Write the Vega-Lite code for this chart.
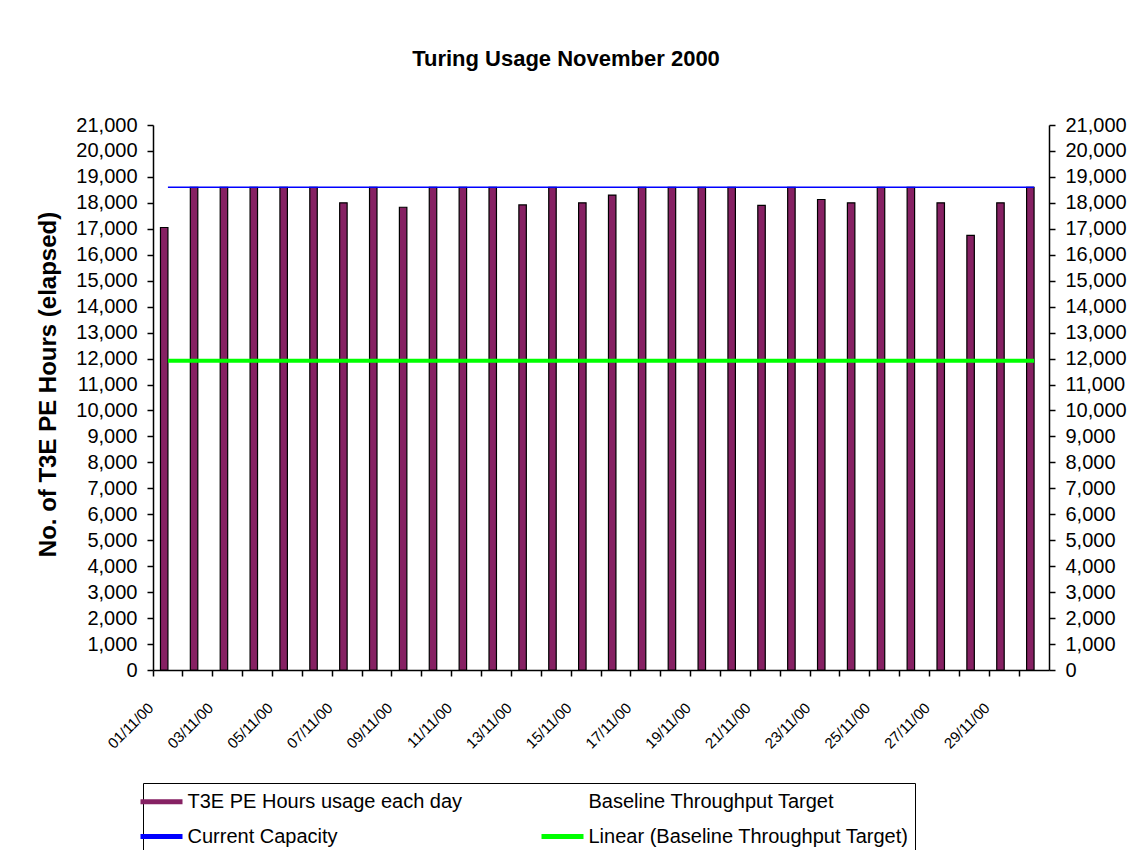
{
  "$schema": "https://vega.github.io/schema/vega-lite/v6.json",
  "width": 896,
  "height": 545,
  "autosize": {"type": "none"},
  "padding": {"left": 153, "top": 125, "right": 84, "bottom": 180},
  "background": "white",
  "config": {
    "view": {"stroke": null},
    "font": "Liberation Sans",
    "axis": {"domainColor": "black", "tickColor": "black", "labelColor": "black", "titleColor": "black", "grid": false, "labelFont": "Liberation Sans", "titleFont": "Liberation Sans", "domainWidth": 1.5, "tickWidth": 1.5}
  },
  "title": {"text": "Turing Usage November 2000", "font": "Liberation Sans", "fontSize": 22, "fontWeight": "bold", "color": "black", "anchor": "middle", "frame": "group", "dx": -35, "offset": 44},
  "data": {"values": [
    {"date": "01/11/00", "usage": 17050, "baseline": 11920, "capacity": 18600, "linear": 11920},
    {"date": "02/11/00", "usage": 18600, "baseline": 11920, "capacity": 18600, "linear": 11920},
    {"date": "03/11/00", "usage": 18600, "baseline": 11920, "capacity": 18600, "linear": 11920},
    {"date": "04/11/00", "usage": 18600, "baseline": 11920, "capacity": 18600, "linear": 11920},
    {"date": "05/11/00", "usage": 18600, "baseline": 11920, "capacity": 18600, "linear": 11920},
    {"date": "06/11/00", "usage": 18600, "baseline": 11920, "capacity": 18600, "linear": 11920},
    {"date": "07/11/00", "usage": 18000, "baseline": 11920, "capacity": 18600, "linear": 11920},
    {"date": "08/11/00", "usage": 18600, "baseline": 11920, "capacity": 18600, "linear": 11920},
    {"date": "09/11/00", "usage": 17830, "baseline": 11920, "capacity": 18600, "linear": 11920},
    {"date": "10/11/00", "usage": 18600, "baseline": 11920, "capacity": 18600, "linear": 11920},
    {"date": "11/11/00", "usage": 18600, "baseline": 11920, "capacity": 18600, "linear": 11920},
    {"date": "12/11/00", "usage": 18600, "baseline": 11920, "capacity": 18600, "linear": 11920},
    {"date": "13/11/00", "usage": 17920, "baseline": 11920, "capacity": 18600, "linear": 11920},
    {"date": "14/11/00", "usage": 18600, "baseline": 11920, "capacity": 18600, "linear": 11920},
    {"date": "15/11/00", "usage": 18000, "baseline": 11920, "capacity": 18600, "linear": 11920},
    {"date": "16/11/00", "usage": 18300, "baseline": 11920, "capacity": 18600, "linear": 11920},
    {"date": "17/11/00", "usage": 18600, "baseline": 11920, "capacity": 18600, "linear": 11920},
    {"date": "18/11/00", "usage": 18600, "baseline": 11920, "capacity": 18600, "linear": 11920},
    {"date": "19/11/00", "usage": 18600, "baseline": 11920, "capacity": 18600, "linear": 11920},
    {"date": "20/11/00", "usage": 18600, "baseline": 11920, "capacity": 18600, "linear": 11920},
    {"date": "21/11/00", "usage": 17900, "baseline": 11920, "capacity": 18600, "linear": 11920},
    {"date": "22/11/00", "usage": 18600, "baseline": 11920, "capacity": 18600, "linear": 11920},
    {"date": "23/11/00", "usage": 18130, "baseline": 11920, "capacity": 18600, "linear": 11920},
    {"date": "24/11/00", "usage": 18000, "baseline": 11920, "capacity": 18600, "linear": 11920},
    {"date": "25/11/00", "usage": 18600, "baseline": 11920, "capacity": 18600, "linear": 11920},
    {"date": "26/11/00", "usage": 18600, "baseline": 11920, "capacity": 18600, "linear": 11920},
    {"date": "27/11/00", "usage": 18000, "baseline": 11920, "capacity": 18600, "linear": 11920},
    {"date": "28/11/00", "usage": 16750, "baseline": 11920, "capacity": 18600, "linear": 11920},
    {"date": "29/11/00", "usage": 18000, "baseline": 11920, "capacity": 18600, "linear": 11920},
    {"date": "30/11/00", "usage": 18600, "baseline": 11920, "capacity": 18600, "linear": 11920}
  ]},
  "transform": [
    {"fold": ["usage", "baseline", "capacity", "linear"], "as": ["series", "value"]}
  ],
  "layer": [
    {
      "transform": [{"filter": {"field": "series", "oneOf": ["usage", "baseline"]}}],
      "mark": {"type": "bar", "strokeWidth": 1.2},
      "encoding": {
        "x": {"field": "date", "type": "ordinal", "sort": null, "scale": {"paddingInner": 0, "paddingOuter": 0},
          "axis": {"title": null, "bandPosition": 0, "labelAngle": -45, "labelAlign": "right", "labelBaseline": "top", "labelFontSize": 15, "labelPadding": 24, "labelOffset": -22, "tickSize": 6, "labelOverlap": false,
            "labelExpr": "isString(datum.value) && toNumber(slice(datum.value, 0, 2)) % 2 === 1 ? datum.value : ''"}},
        "xOffset": {"field": "series", "scale": {"domain": ["padL", "usage", "baseline", "padR"], "paddingInner": 0, "paddingOuter": 0}},
        "y": {"field": "value", "type": "quantitative", "scale": {"domain": [0, 21000], "nice": false},
          "axis": {"orient": "left", "values": [0,1000,2000,3000,4000,5000,6000,7000,8000,9000,10000,11000,12000,13000,14000,15000,16000,17000,18000,19000,20000,21000], "format": ",d", "labelFontSize": 20, "labelPadding": 10, "tickSize": 6,
            "title": "No. of T3E PE Hours (elapsed)", "titleFontSize": 24, "titleFontWeight": "bold", "titleAngle": -90, "titleAlign": "center", "titleBaseline": "alphabetic", "titleX": -98, "titleY": 259}},
        "color": {"field": "series", "type": "nominal",
          "scale": {"domain": ["usage", "capacity", "baseline", "linear"], "range": ["#862163", "#0000ff", "transparent", "#00ff00"]},
          "legend": {"orient": "none", "legendX": -10, "legendY": 658, "columns": 2, "title": null, "labelFont": "Liberation Sans", "labelFontSize": 20, "labelColor": "black", "labelLimit": 600,
            "labelExpr": "datum.value === 'usage' ? 'T3E PE Hours usage each day' : datum.value === 'baseline' ? 'Baseline Throughput Target' : datum.value === 'capacity' ? 'Current Capacity' : 'Linear (Baseline Throughput Target)'",
            "symbolType": "M-1.68,-0.2H1.68V0.2H-1.68Z", "symbolSize": 625, "symbolStrokeWidth": 0, "labelOffset": 13.5, "rowPadding": 12, "columnPadding": 78, "padding": 6, "strokeColor": "black", "fillColor": "white"}},
        "stroke": {"condition": {"test": "datum.series === 'baseline'", "value": "transparent"}, "value": "black"}
      }
    },
    {
      "transform": [{"filter": {"field": "series", "equal": "capacity"}}],
      "mark": {"type": "line", "strokeWidth": 1.5},
      "encoding": {
        "x": {"field": "date", "type": "ordinal", "sort": null},
        "y": {"field": "value", "type": "quantitative",
          "axis": {"orient": "right", "values": [0,1000,2000,3000,4000,5000,6000,7000,8000,9000,10000,11000,12000,13000,14000,15000,16000,17000,18000,19000,20000,21000], "format": ",d", "labelFontSize": 20, "labelPadding": 10, "tickSize": 6, "title": null}},
        "color": {"field": "series", "type": "nominal"}
      }
    },
    {
      "transform": [{"filter": {"field": "series", "equal": "linear"}}],
      "mark": {"type": "line", "strokeWidth": 4},
      "encoding": {
        "x": {"field": "date", "type": "ordinal", "sort": null},
        "y": {"field": "value", "type": "quantitative", "axis": null},
        "color": {"field": "series", "type": "nominal"}
      }
    }
  ],
  "resolve": {"axis": {"y": "independent"}}
}
